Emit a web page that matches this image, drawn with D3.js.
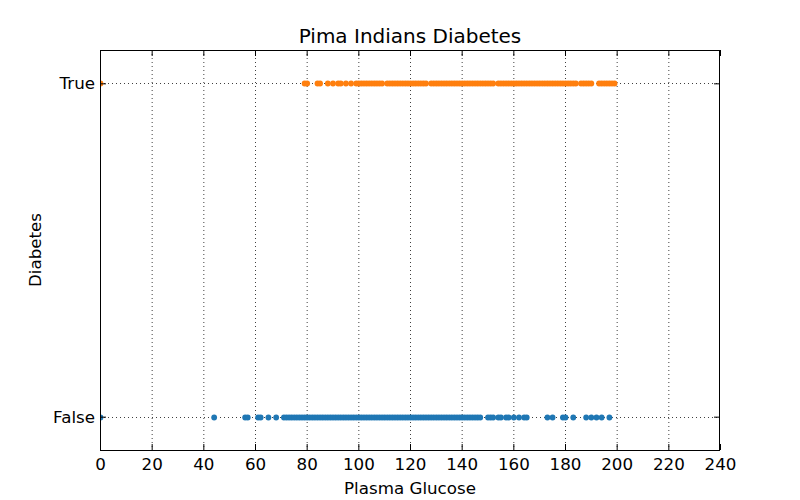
<!DOCTYPE html>
<html>
<head>
<meta charset="utf-8">
<script src="https://cdn.jsdelivr.net/npm/d3@7"></script>
<style>
  body { margin: 0; background: #fff; }
  text { font-family: "DejaVu Sans", sans-serif; fill: #000; }
</style>
</head>
<body>
<svg id="chart" width="800" height="500"></svg>
<script>
// ---- data ----
const categories = ["False", "True"];
const xTicks = [0, 20, 40, 60, 80, 100, 120, 140, 160, 180, 200, 220, 240];
const glucoseFalse = [0, 44, 56, 57, 61, 62, 65, 68,
  71, 72, 73, 74, 75, 76, 77, 78, 79, 80, 81, 82, 83, 84, 85, 86, 87, 88, 89, 90,
  91, 92, 93, 94, 95, 96, 97, 98, 99, 100, 101, 102, 103, 104, 105, 106, 107, 108, 109, 110,
  111, 112, 113, 114, 115, 116, 117, 118, 119, 120, 121, 122, 123, 124, 125, 126, 127, 128, 129, 130,
  131, 132, 133, 134, 135, 136, 137, 138, 139, 140, 141, 142, 143, 144, 145, 146, 147,
  150, 151, 152, 154, 155, 157, 158, 160, 162, 164, 165,
  173, 175, 179, 180, 183, 188, 190, 192, 194, 197];
const glucoseTrue = [0, 79, 80, 84, 85, 88, 90, 92, 93, 95, 97,
  99, 100, 101, 102, 103, 104, 105, 106, 107, 108, 109, 111, 112, 113, 114, 115, 116, 117, 118, 119, 120,
  121, 122, 123, 124, 125, 126, 128, 129, 130, 131, 132, 133, 134, 135, 136, 137, 138, 139, 140,
  141, 142, 143, 144, 145, 146, 147, 148, 149, 150, 151, 152, 154, 155, 156, 157, 158, 159, 160,
  161, 162, 163, 164, 165, 166, 167, 168, 169, 170, 171, 172, 173, 174, 175, 176, 177, 178, 179, 180,
  181, 182, 183, 184, 186, 187, 188, 189, 190, 193, 194, 195, 196, 197, 198, 199];
const series = [
  { name: "False", values: glucoseFalse, color: "#1f77b4" },
  { name: "True", values: glucoseTrue, color: "#ff7f0e" }
];

// ---- layout ----
const svg = d3.select("#chart");
const L = 100, R = 720, T = 50, B = 450;
const x = d3.scaleLinear().domain([0, 240]).range([L, R]);
const y = d3.scaleLinear().domain([-0.1, 1.1]).range([B, T]);
const yIndex = c => categories.indexOf(c);

svg.append("defs").append("clipPath").attr("id", "clip")
  .append("rect").attr("x", L).attr("y", T).attr("width", R - L).attr("height", B - T);

// grid
const grid = svg.append("g").attr("stroke", "#000").attr("stroke-width", 1)
  .attr("stroke-dasharray", "1,3").attr("opacity", 0.75);
grid.selectAll("line.gx").data(xTicks.slice(1, -1)).join("line")
  .attr("x1", d => x(d) + 0.5).attr("x2", d => x(d) + 0.5)
  .attr("y1", T).attr("y2", B);
grid.selectAll("line.gy").data(categories).join("line")
  .attr("x1", L).attr("x2", R)
  .attr("y1", d => Math.round(y(yIndex(d))) + 0.5).attr("y2", d => Math.round(y(yIndex(d))) + 0.5);

// points
const pts = svg.append("g").attr("clip-path", "url(#clip)");
series.forEach(s => {
  pts.append("g").selectAll("circle").data(s.values).join("circle")
    .attr("cx", d => x(d) + 0.5)
    .attr("cy", Math.round(y(yIndex(s.name))) + 0.5)
    .attr("r", 2.9)
    .attr("fill", s.color);
});

// axes (ticks inward)
const tickLen = 6;
const axB = svg.append("g").attr("transform", `translate(0,${B})`)
  .call(d3.axisBottom(x).tickValues(xTicks).tickSizeInner(-tickLen).tickSizeOuter(0).tickPadding(8));
const axT = svg.append("g").attr("transform", `translate(0,${T})`)
  .call(d3.axisTop(x).tickValues(xTicks).tickSizeInner(-tickLen).tickSizeOuter(0).tickFormat(""));
const axL = svg.append("g").attr("transform", `translate(${L},0)`)
  .call(d3.axisLeft(y).tickValues([0, 1]).tickFormat(d => categories[d]).tickSizeInner(-tickLen).tickSizeOuter(0).tickPadding(5));
const axR = svg.append("g").attr("transform", `translate(${R},0)`)
  .call(d3.axisRight(y).tickValues([0, 1]).tickSizeInner(-tickLen).tickSizeOuter(0).tickFormat(""));
[axB, axT, axL, axR].forEach(a => {
  a.select(".domain").remove();
  a.selectAll("line").attr("stroke", "#000");
  a.selectAll("text").attr("font-size", "16.7px").attr("font-family", "DejaVu Sans");
});

// frame
svg.append("rect").attr("x", L + 0.5).attr("y", T + 0.5).attr("width", R - L - 1).attr("height", B - T)
  .attr("fill", "none").attr("stroke", "#000").attr("stroke-width", 1);

// labels
svg.append("text").attr("x", (L + R) / 2).attr("y", 43).attr("text-anchor", "middle")
  .attr("font-size", "20px").text("Pima Indians Diabetes");
svg.append("text").attr("x", (L + R) / 2).attr("y", 494).attr("text-anchor", "middle")
  .attr("font-size", "16.7px").text("Plasma Glucose");
svg.append("text").attr("transform", `translate(41,${(T + B) / 2}) rotate(-90)`).attr("text-anchor", "middle")
  .attr("font-size", "16.7px").text("Diabetes");
</script>
</body>
</html>
